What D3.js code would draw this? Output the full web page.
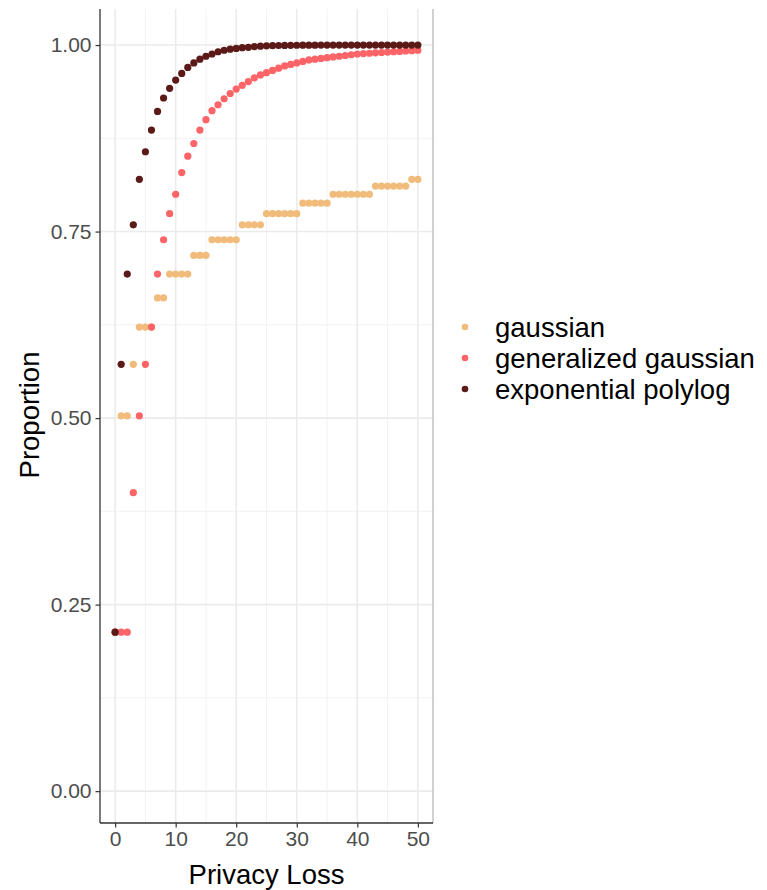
<!DOCTYPE html>
<html>
<head>
<meta charset="utf-8">
<script src="https://cdn.jsdelivr.net/npm/d3@7"></script>
<style>
  body { margin: 0; background: #fff; }
  svg { display: block; font-family: "Liberation Sans", Arial, sans-serif; }
</style>
</head>
<body>
<div id="chart"></div>
<script>
// privacy loss values 0..50
var privacyLoss = d3.range(0, 51);

// series values
var gaussian = [
  0.213, 0.503, 0.503, 0.572, 0.622, 0.622, 0.622, 0.661, 0.661, 0.693,
  0.693, 0.693, 0.693, 0.718, 0.718, 0.718, 0.739, 0.739, 0.739, 0.739,
  0.739, 0.759, 0.759, 0.759, 0.759, 0.774, 0.774, 0.774, 0.774, 0.774,
  0.774, 0.788, 0.788, 0.788, 0.788, 0.788, 0.800, 0.800, 0.800, 0.800,
  0.800, 0.800, 0.800, 0.811, 0.811, 0.811, 0.811, 0.811, 0.811, 0.820,
  0.820
];
var generalizedGaussian = [
  0.213, 0.213, 0.213, 0.400, 0.503, 0.572, 0.622, 0.693, 0.739, 0.774,
  0.800, 0.829, 0.851, 0.868, 0.886, 0.900, 0.912, 0.920, 0.928, 0.935,
  0.941, 0.946, 0.951, 0.956, 0.960, 0.963, 0.966, 0.969, 0.972, 0.974,
  0.976, 0.978, 0.980, 0.981, 0.982, 0.983, 0.984, 0.985, 0.986, 0.987,
  0.988, 0.9885, 0.989, 0.9895, 0.990, 0.9905, 0.991, 0.9915, 0.992, 0.9925,
  0.993
];
var exponentialPolylog = [
  0.213, 0.572, 0.693, 0.759, 0.820, 0.857, 0.886, 0.911, 0.929, 0.942,
  0.953, 0.962, 0.970, 0.976, 0.981, 0.985, 0.988, 0.991, 0.993, 0.9945,
  0.9955, 0.9965, 0.997, 0.998, 0.9985, 0.999, 0.9992, 0.9994, 0.9995, 0.9996,
  0.9997, 0.9998, 0.9998, 0.9998, 0.9999, 0.9999, 0.9999, 0.9999, 0.9999, 1.0,
  1.0, 1.0, 1.0, 1.0, 1.0, 1.0, 1.0, 1.0, 1.0, 1.0,
  1.0
];

var seriesNames = ['gaussian', 'generalized gaussian', 'exponential polylog'];
var seriesColors = ['#F1BB7B', '#FD6467', '#5B1A18'];
var xTicks = [0, 10, 20, 30, 40, 50];
var xMinor = [5, 15, 25, 35, 45];
var yTicks = [0, 0.25, 0.5, 0.75, 1];
var yMinor = [0.125, 0.375, 0.625, 0.875];

var width = 767, height = 890;
var panel = { left: 100, right: 433, top: 9, bottom: 823 };

var svg = d3.select('#chart').append('svg')
  .attr('width', width)
  .attr('height', height);

var x = d3.scaleLinear().domain([-2.5, 52.5]).range([panel.left, panel.right]);
var y = d3.scaleLinear().domain([-0.0427, 1.0483]).range([panel.bottom, panel.top]);

//grid lines, minor first
var grid = svg.append('g');
grid.selectAll('line.xminor').data(xMinor).enter().append('line')
  .attr('x1', function (d) { return x(d); }).attr('x2', function (d) { return x(d); })
  .attr('y1', panel.top).attr('y2', panel.bottom)
  .attr('stroke', '#f2f2f2').attr('stroke-width', 1);
grid.selectAll('line.yminor').data(yMinor).enter().append('line')
  .attr('y1', function (d) { return y(d); }).attr('y2', function (d) { return y(d); })
  .attr('x1', panel.left).attr('x2', panel.right)
  .attr('stroke', '#f2f2f2').attr('stroke-width', 1);
grid.selectAll('line.xmajor').data(xTicks).enter().append('line')
  .attr('x1', function (d) { return x(d); }).attr('x2', function (d) { return x(d); })
  .attr('y1', panel.top).attr('y2', panel.bottom)
  .attr('stroke', '#ebebeb').attr('stroke-width', 1.6);
grid.selectAll('line.ymajor').data(yTicks).enter().append('line')
  .attr('y1', function (d) { return y(d); }).attr('y2', function (d) { return y(d); })
  .attr('x1', panel.left).attr('x2', panel.right)
  .attr('stroke', '#ebebeb').attr('stroke-width', 1.6);

//light right border of the panel
svg.append('line')
  .attr('x1', panel.right).attr('x2', panel.right)
  .attr('y1', panel.top).attr('y2', panel.bottom)
  .attr('stroke', '#b3b3b3').attr('stroke-width', 1.2);

//points, one layer per series in legend order
var allSeries = [gaussian, generalizedGaussian, exponentialPolylog];
allSeries.forEach(function (values, i) {
  svg.append('g').selectAll('circle')
    .data(values).enter().append('circle')
    .attr('cx', function (d, j) { return x(privacyLoss[j]); })
    .attr('cy', function (d) { return y(d); })
    .attr('r', 3.6)
    .attr('fill', seriesColors[i]);
});

//axes
var xAxis = svg.append('g')
  .attr('transform', 'translate(0,' + panel.bottom + ')')
  .call(d3.axisBottom(x).tickValues(xTicks).tickSize(4.5).tickPadding(4).tickFormat(d3.format('d')));
var yAxis = svg.append('g')
  .attr('transform', 'translate(' + panel.left + ',0)')
  .call(d3.axisLeft(y).tickValues(yTicks).tickSize(4.5).tickPadding(4).tickFormat(d3.format('.2f')));

[xAxis, yAxis].forEach(function (ax) {
  ax.select('.domain').remove();
  ax.selectAll('.tick line').attr('stroke', '#333').attr('stroke-width', 1.2);
  ax.selectAll('.tick text').attr('fill', '#4d4d4d').style('font-size', '21px')
    .style('font-family', '"Liberation Sans", Arial, sans-serif');
});

//axis lines
svg.append('line')
  .attr('x1', panel.left).attr('x2', panel.left)
  .attr('y1', panel.top).attr('y2', panel.bottom)
  .attr('stroke', '#333').attr('stroke-width', 1.3);
svg.append('line')
  .attr('x1', panel.left).attr('x2', panel.right)
  .attr('y1', panel.bottom).attr('y2', panel.bottom)
  .attr('stroke', '#333').attr('stroke-width', 1.3);

//axis titles
svg.append('text')
  .attr('x', (panel.left + panel.right) / 2)
  .attr('y', 884)
  .attr('text-anchor', 'middle')
  .style('font-size', '27.5px')
  .attr('fill', '#000')
  .text('Privacy Loss');

svg.append('text')
  .attr('transform', 'translate(39,415) rotate(-90)')
  .attr('text-anchor', 'middle')
  .style('font-size', '27.5px')
  .attr('fill', '#000')
  .text('Proportion');

//legend
var legend = svg.append('g').attr('transform', 'translate(465,327)');
var item = legend.selectAll('g').data(seriesNames).enter().append('g')
  .attr('transform', function (d, i) { return 'translate(0,' + i * 31 + ')'; });
item.append('circle')
  .attr('r', 3.3)
  .attr('fill', function (d, i) { return seriesColors[i]; });
item.append('text')
  .attr('x', 30)
  .attr('dy', '0.35em')
  .style('font-size', '27.5px')
  .attr('fill', '#000')
  .text(function (d) { return d; });
</script>
</body>
</html>
